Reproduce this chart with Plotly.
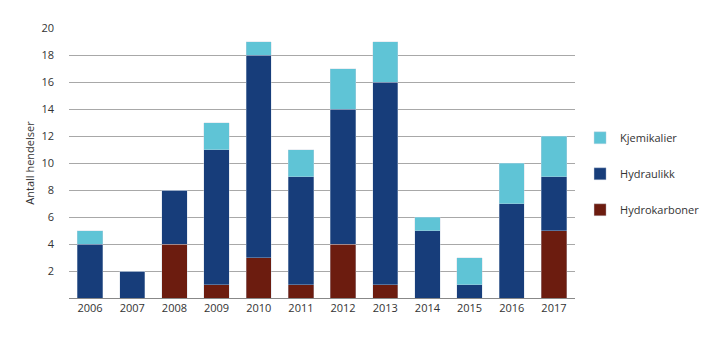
import plotly.graph_objects as go

years = ["2006", "2007", "2008", "2009", "2010", "2011", "2012", "2013", "2014", "2015", "2016", "2017"]
hydrokarboner = [0, 0, 4, 1, 3, 1, 4, 1, 0, 0, 0, 5]
hydraulikk = [4, 2, 4, 10, 15, 8, 10, 15, 5, 1, 7, 4]
kjemikalier = [1, 0, 0, 2, 1, 2, 3, 3, 1, 2, 3, 3]
y_ticks = [2, 4, 6, 8, 10, 12, 14, 16, 18, 20]

FONT = "Open Sans"
fig = go.Figure()
series = [("Hydrokarboner", hydrokarboner, "#6c1c0f", 3),
          ("Hydraulikk", hydraulikk, "#173d7a", 2),
          ("Kjemikalier", kjemikalier, "#5fc4d6", 1)]
for name, vals, col, rank in series:
    fig.add_trace(go.Bar(x=years, y=vals, name=name, legendgroup=name, legendrank=rank,
                         marker=dict(color=col, line=dict(color="rgba(200,210,225,0.6)", width=0.6))))

fig.update_layout(
    barmode="stack",
    bargap=0.4,
    width=719, height=341,
    margin=dict(l=69, r=144, t=28, b=43, autoexpand=False),
    paper_bgcolor="white", plot_bgcolor="white",
    font=dict(family=FONT, size=11, color="#333333"),
    legend=dict(x=1.01, y=0.647, xanchor="left", yanchor="top",
                traceorder="grouped", tracegroupgap=17,
                font=dict(size=11, color="#333333"), itemwidth=30),
    showlegend=True,
)
fig.update_xaxes(showgrid=False, showline=True, linecolor="#888888", linewidth=1,
                 ticks="", tickfont=dict(size=11))
fig.update_yaxes(range=[0, 20], tickvals=y_ticks, showgrid=True, gridcolor="#a8a8a8",
                 gridwidth=1, zeroline=False, ticks="", ticklabelstandoff=14,
                 title=dict(text="Antall hendelser", font=dict(size=11), standoff=4),
                 tickfont=dict(size=11))
fig.write_html("out.html")
